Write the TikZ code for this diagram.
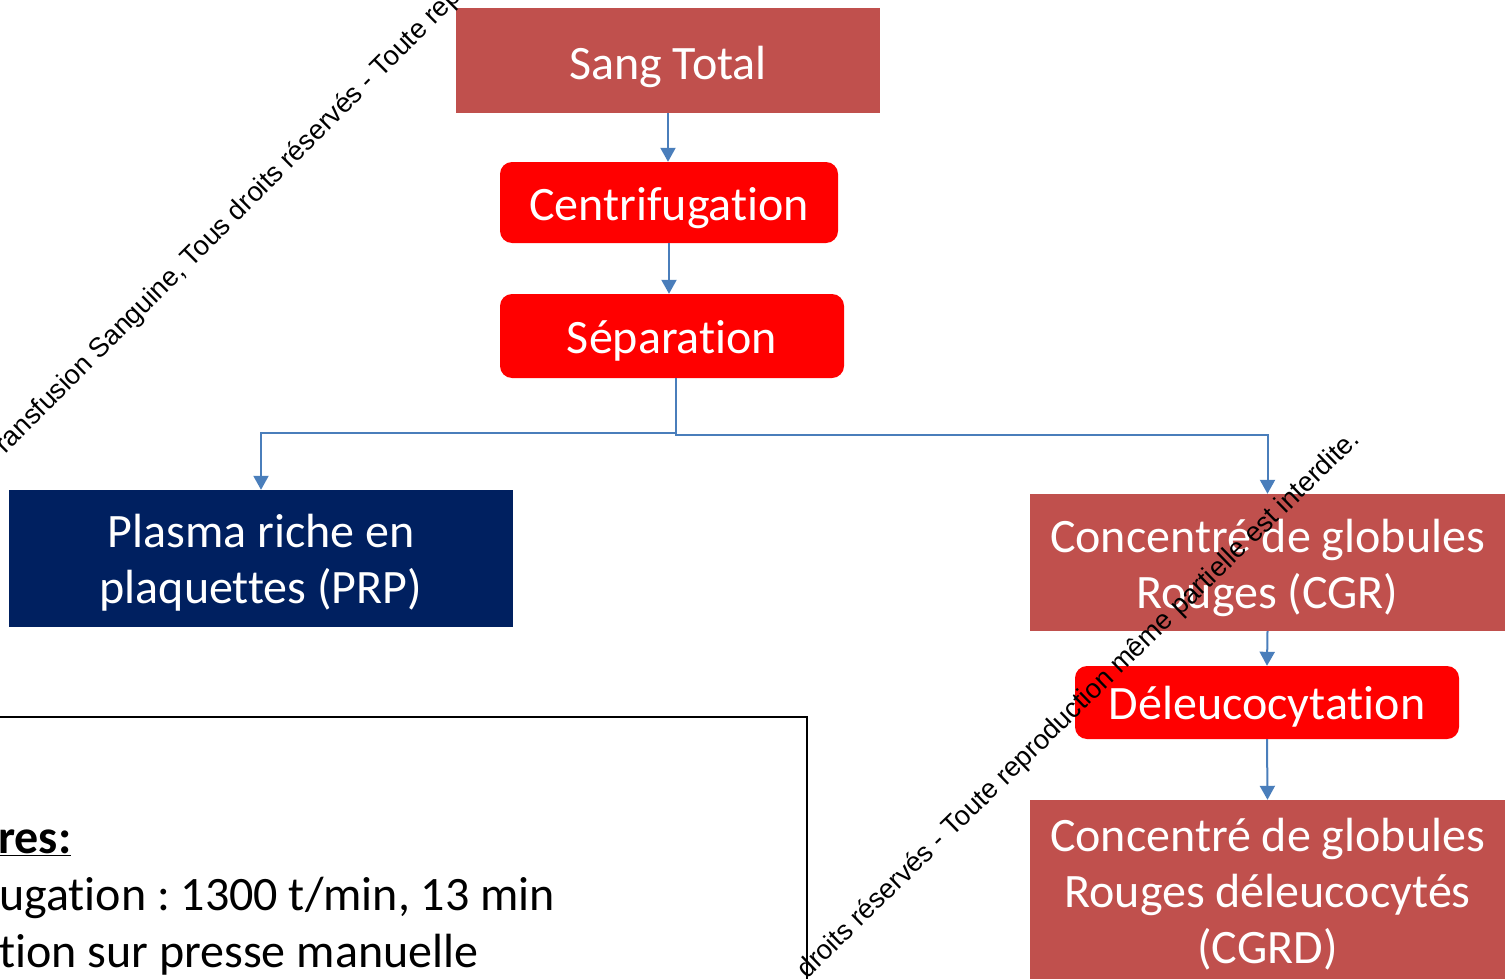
\documentclass[tikz,border=0pt]{standalone}
\usepackage{fontspec}
\setmainfont{Carlito}[Ligatures={NoCommon}]
\newfontfamily\arialf{Liberation Sans}
\usetikzlibrary{arrows.meta}
\definecolor{darkred}{HTML}{C0504D}
\definecolor{brightred}{HTML}{FF0000}
\definecolor{navy}{HTML}{002060}
\definecolor{linkblue}{HTML}{4A7EBB}
\frenchspacing
\tikzset{
  lbl/.style={font=\fontsize{48}{56}\selectfont, text=white, align=center, inner sep=0pt},
  boxbase/.style={inner sep=0pt},
  darkbox/.style={boxbase, fill=darkred},
  redbox/.style={boxbase, fill=brightred, rounded corners=12pt},
  navybox/.style={boxbase, fill=navy},
  arr/.style={draw=linkblue, line width=2pt, -{Triangle[width=15pt,length=14pt]}},
  wmtext/.style={font=\arialf\fontsize{27.3}{32}\selectfont, inner sep=0pt, text=black},
  paramtext/.style={font=\fontsize{48}{56}\selectfont, anchor=base west, inner sep=0pt}
}
\begin{document}
\begin{tikzpicture}[x=1pt,y=-1pt]
\useasboundingbox (0,0) rectangle (1507,979);
\clip (0,0) rectangle (1507,979);

% boxes
\node[darkbox, minimum width=424pt, minimum height=105pt,
      label={[lbl,yshift=-6pt]center:{Sang Total}}] (sang) at (668,60.5) {};
\node[redbox, minimum width=338pt, minimum height=81pt,
      label={[lbl,yshift=-6pt]center:{Centrifugation}}] (centrif) at (669,202.5) {};
\node[redbox, minimum width=344pt, minimum height=84pt,
      label={[lbl,yshift=-5pt]center:{Séparation}}] (sep) at (672,336) {};
\node[navybox, minimum width=504pt, minimum height=137pt,
      label={[lbl,yshift=-4pt]center:{Plasma riche en\\plaquettes (PRP)}}] (prp) at (261,558.5) {};
\node[darkbox, minimum width=475pt, minimum height=137pt,
      label={[lbl,yshift=-5pt]center:{Concentré de globules\\Rouges (CGR)}}] (cgr) at (1267.5,562.5) {};
\node[redbox, minimum width=384pt, minimum height=73pt,
      label={[lbl,yshift=-4pt]center:{Déleucocytation}}] (deleuco) at (1267,702.5) {};
\node[darkbox, minimum width=475pt, minimum height=184pt,
      label={[lbl,yshift=-2.5pt]center:{Concentré de globules\\Rouges déleucocytés\\(CGRD)}}] (cgrd) at (1267.5,892) {};

% connectors
\draw[arr] (sang.south) -- (sang.south |- centrif.north);
\draw[arr] (centrif.south) -- (centrif.south |- sep.north);
\draw[arr] ([xshift=4pt]sep.south) -- ++(0,55) -| (prp.north);
\draw[arr] ([xshift=4pt]sep.south) -- ++(0,57) -| (cgr.north);
\draw[arr] (cgr.south) -- (deleuco.north);
\draw[arr] (deleuco.south) -- (cgrd.north);

% parameter box
\draw[line width=2.5pt] (-20,717) rectangle (807,1010);
\node[paramtext] (p1) at (-2,853) {\bfseries\underline{res:}};
\node[paramtext] (p2) at (-1,910) {ugation : 1300 t/min, 13 min};
\node[paramtext] (p3) at (-1,967) {tion sur presse manuelle};

% diagonal notices
\node[wmtext, rotate=45, anchor=base west] (wm1) at (5,455) {ransfusion Sanguine, Tous droits réservés - Toute rep};
\node[wmtext, rotate=44.2, anchor=base east] (wm2) at (1361,441) {droits réservés - Toute reproduction même partielle est interdite.};
\end{tikzpicture}
\end{document}
